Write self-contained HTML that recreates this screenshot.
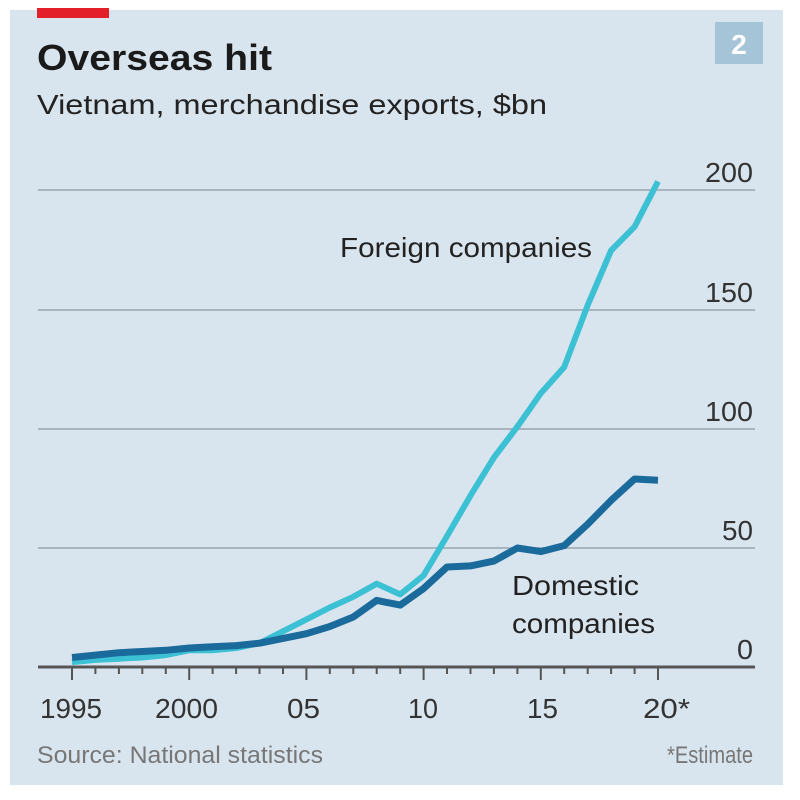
<!DOCTYPE html>
<html><head><meta charset="utf-8"><style>
body{margin:0;background:#fff;}
svg{display:block;font-family:"Liberation Sans",sans-serif;}
</style></head><body>
<svg width="800" height="800" viewBox="0 0 800 800">
<rect x="0" y="0" width="800" height="800" fill="#fff"/>
<rect x="10" y="10" width="773" height="775" fill="#d9e5ee"/>
<rect x="37" y="8" width="72" height="10" fill="#e3202a"/>
<rect x="715" y="22" width="48" height="42" fill="#a6c4d7"/>
<text x="739" y="54" font-size="28" font-weight="bold" fill="#fff" text-anchor="middle">2</text>
<text x="37" y="70" font-size="36" font-weight="bold" fill="#1a1a1a" textLength="235" lengthAdjust="spacingAndGlyphs">Overseas hit</text>
<text x="37" y="114" font-size="28" fill="#222" textLength="510" lengthAdjust="spacingAndGlyphs">Vietnam, merchandise exports, $bn</text>
<g stroke="#a9b4bd" stroke-width="2">
<line x1="38" y1="190" x2="755" y2="190"/>
<line x1="38" y1="310" x2="755" y2="310"/>
<line x1="38" y1="429" x2="755" y2="429"/>
<line x1="38" y1="548" x2="755" y2="548"/>
</g>
<g font-size="28" fill="#333">
<text x="705" y="182" textLength="48" lengthAdjust="spacingAndGlyphs">200</text>
<text x="705" y="302" textLength="48" lengthAdjust="spacingAndGlyphs">150</text>
<text x="705" y="421" textLength="48" lengthAdjust="spacingAndGlyphs">100</text>
<text x="722" y="540" textLength="31" lengthAdjust="spacingAndGlyphs">50</text>
<text x="737" y="659" textLength="16" lengthAdjust="spacingAndGlyphs">0</text>
</g>
<polyline fill="none" stroke="#3cc0d3" stroke-width="6" stroke-linejoin="round" points="72,662.2 95.4,659.9 118.9,658.7 142.3,657.5 165.8,655.1 189.2,650.3 212.6,650.3 236.1,648 259.5,643.2 283,631.3 306.4,619.4 329.8,607.5 353.3,596.8 376.7,583.7 400.2,594.4 423.6,575.4 447,536.1 470.5,495.6 493.9,457.6 517.4,426.6 540.8,393.3 564.2,367.1 587.7,305.2 611.1,250.5 634.6,226.7 658,181.5"/>
<polyline fill="none" stroke="#1b6a9c" stroke-width="7" stroke-linejoin="round" points="72,657.5 95.4,655.1 118.9,652.7 142.3,651.5 165.8,650.3 189.2,648 212.6,646.8 236.1,645.6 259.5,643.2 283,638.4 306.4,633.7 329.8,626.5 353.3,617 376.7,600.4 400.2,605.1 423.6,588.5 447,567 470.5,565.9 493.9,561.1 517.4,548 540.8,551.6 564.2,545.6 587.7,524.2 611.1,500.4 634.6,479 658,480.2"/>
<line x1="38" y1="667" x2="755" y2="667" stroke="#555" stroke-width="3"/>
<g stroke="#555" stroke-width="2">
<line x1="72" y1="667" x2="72" y2="680"/><line x1="95.4" y1="667" x2="95.4" y2="674"/><line x1="118.9" y1="667" x2="118.9" y2="674"/><line x1="142.3" y1="667" x2="142.3" y2="674"/><line x1="165.8" y1="667" x2="165.8" y2="674"/>
<line x1="189.2" y1="667" x2="189.2" y2="680"/><line x1="212.6" y1="667" x2="212.6" y2="674"/><line x1="236.1" y1="667" x2="236.1" y2="674"/><line x1="259.5" y1="667" x2="259.5" y2="674"/><line x1="283" y1="667" x2="283" y2="674"/>
<line x1="306.4" y1="667" x2="306.4" y2="680"/><line x1="329.8" y1="667" x2="329.8" y2="674"/><line x1="353.3" y1="667" x2="353.3" y2="674"/><line x1="376.7" y1="667" x2="376.7" y2="674"/><line x1="400.2" y1="667" x2="400.2" y2="674"/>
<line x1="423.6" y1="667" x2="423.6" y2="680"/><line x1="447" y1="667" x2="447" y2="674"/><line x1="470.5" y1="667" x2="470.5" y2="674"/><line x1="493.9" y1="667" x2="493.9" y2="674"/><line x1="517.4" y1="667" x2="517.4" y2="674"/>
<line x1="540.8" y1="667" x2="540.8" y2="680"/><line x1="564.2" y1="667" x2="564.2" y2="674"/><line x1="587.7" y1="667" x2="587.7" y2="674"/><line x1="611.1" y1="667" x2="611.1" y2="674"/><line x1="634.6" y1="667" x2="634.6" y2="674"/>
<line x1="658" y1="667" x2="658" y2="680"/>
</g>
<g font-size="28" fill="#333">
<text x="40" y="718" textLength="62" lengthAdjust="spacingAndGlyphs">1995</text>
<text x="155" y="718" textLength="63" lengthAdjust="spacingAndGlyphs">2000</text>
<text x="287" y="718" textLength="33" lengthAdjust="spacingAndGlyphs">05</text>
<text x="408" y="718" textLength="30" lengthAdjust="spacingAndGlyphs">10</text>
<text x="527" y="718" textLength="31" lengthAdjust="spacingAndGlyphs">15</text>
<text x="643" y="718" textLength="47" lengthAdjust="spacingAndGlyphs">20*</text>
</g>
<text x="340" y="257" font-size="28" fill="#222" textLength="252" lengthAdjust="spacingAndGlyphs">Foreign companies</text>
<text x="512" y="595" font-size="28" fill="#222" textLength="127" lengthAdjust="spacingAndGlyphs">Domestic</text>
<text x="512" y="633" font-size="28" fill="#222" textLength="143" lengthAdjust="spacingAndGlyphs">companies</text>
<text x="37" y="763" font-size="24" fill="#777" textLength="286" lengthAdjust="spacingAndGlyphs">Source: National statistics</text>
<text x="667" y="763" font-size="24" fill="#777" textLength="86" lengthAdjust="spacingAndGlyphs">*Estimate</text>
</svg>
</body></html>
